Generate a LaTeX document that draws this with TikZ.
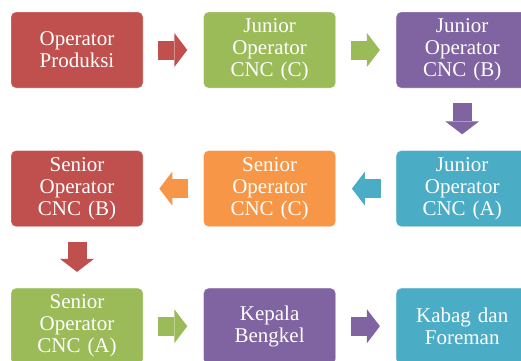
\documentclass[tikz,border=0pt]{standalone}
\usepackage{fontspec}
\setmainfont{Liberation Serif}
\usetikzlibrary{positioning,arrows.meta}

\definecolor{boxRed}{HTML}{C0504D}
\definecolor{boxGreen}{HTML}{9BBB59}
\definecolor{boxPurple}{HTML}{8064A2}
\definecolor{boxAqua}{HTML}{4BACC6}
\definecolor{boxOrange}{HTML}{F79646}

\begin{document}
\begin{tikzpicture}[x=1pt,y=1pt]
        \tikzstyle{every node}=[font=\fontsize{21}{22}\selectfont]
        \tikzstyle{jobBox}=[rounded corners=5pt, minimum width=132pt, minimum height=76pt,
            text width=124pt, align=center, text=white, draw=white, draw opacity=0.35, line width=0.6pt]
        \tikzstyle{blockArrow}=[line width=19pt, shorten <=15pt, shorten >=16pt,
            -{Triangle[length=13pt, width=34pt, line width=0pt]}]

        \useasboundingbox (0,0) rectangle (521,-360);
        \clip (0,0) rectangle (521,-360);

        % first row
        \node[jobBox, fill=boxRed] (opProduksi) at (77,-50) {Operator\\Produksi};
        \node[jobBox, fill=boxGreen, right=60pt of opProduksi] (juniorC) {Junior\\Operator\\CNC (C)};
        \node[jobBox, fill=boxPurple, right=60pt of juniorC] (juniorB) {Junior\\Operator\\CNC (B)};

        % second row
        \node[jobBox, fill=boxAqua, below=62pt of juniorB] (juniorA) {Junior\\Operator\\CNC (A)};
        \node[jobBox, fill=boxOrange, left=60pt of juniorA] (seniorC) {Senior\\Operator\\CNC (C)};
        \node[jobBox, fill=boxRed, left=60pt of seniorC] (seniorB) {Senior\\Operator\\CNC (B)};

        % third row
        \node[jobBox, fill=boxGreen, below=61pt of seniorB] (seniorA) {Senior\\Operator\\CNC (A)};
        \node[jobBox, fill=boxPurple, right=60pt of seniorA] (kepala) {Kepala\\Bengkel};
        \node[jobBox, fill=boxAqua, right=60pt of kepala] (kabag) {Kabag dan\\Foreman};

        \draw[blockArrow, boxRed] (opProduksi) -- (juniorC);
        \draw[blockArrow, boxGreen] (juniorC) -- (juniorB);
        \draw[blockArrow, boxPurple] (juniorB) -- (juniorA);
        \draw[blockArrow, boxAqua] (juniorA) -- (seniorC);
        \draw[blockArrow, boxOrange] (seniorC) -- (seniorB);
        \draw[blockArrow, boxRed] (seniorB) -- (seniorA);
        \draw[blockArrow, boxGreen] (seniorA) -- (kepala);
        \draw[blockArrow, boxPurple] (kepala) -- (kabag);

    \end{tikzpicture}
\end{document}
